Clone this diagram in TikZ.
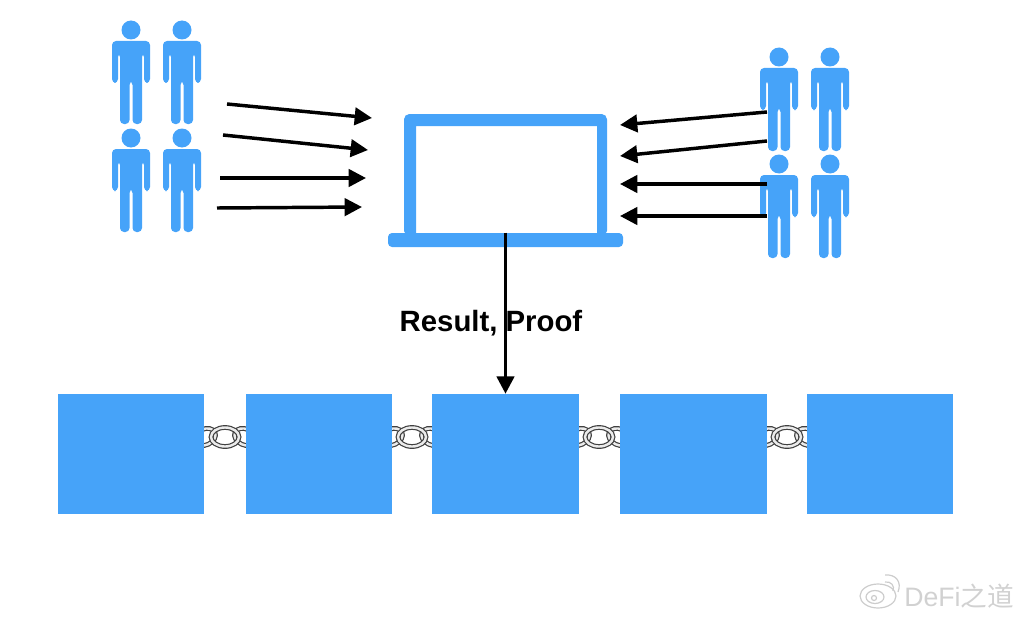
\documentclass[tikz,border=0pt]{standalone}
\usepackage{fontspec}
\setmainfont{Liberation Sans}
\newfontfamily\cjkfont{Noto Sans CJK SC}
\usepackage{tikz}
\usetikzlibrary{arrows.meta}

\definecolor{chainblue}{HTML}{46A3F9}

\tikzset{
    blockbox/.style={fill=chainblue, inner sep=0pt, minimum height=90pt},
    flowarrow/.style={line width=2.6pt, -{Triangle[length=13pt, width=13pt]}},
    ringdark/.style={draw=black!75, line width=3.6pt},
    ringlight/.style={draw=black!8, line width=1.8pt},
    person/.pic={
        \fill[chainblue] (0, 0) circle (9.5);
        \fill[chainblue, rounded corners=3] (-19, 11) -- (19, 11) -- (19, 53) -- (13, 53) -- (13, 23)
            -- (11, 23) -- (11, 94) -- (1.5, 94) -- (1.5, 51) -- (-1.5, 51) -- (-1.5, 94) -- (-11, 94)
            -- (-11, 23) -- (-13, 23) -- (-13, 53) -- (-19, 53) -- cycle;
    },
    chainlink/.pic={
        \draw[ringdark, rotate around={-25:(20, 0)}] (20, 0) ellipse (11 and 8);
        \draw[ringlight, rotate around={-25:(20, 0)}] (20, 0) ellipse (11 and 8);
        \draw[ringdark, rotate around={25:(-20, 0)}] (-20, 0) ellipse (11 and 8);
        \draw[ringlight, rotate around={25:(-20, 0)}] (-20, 0) ellipse (11 and 8);
        \draw[ringdark] (0, 0) ellipse (14 and 9.5);
        \draw[ringlight] (0, 0) ellipse (14 and 9.5);
    }
}

\begin{document}
\begin{tikzpicture}[x=0.75pt, y=-0.75pt]
    \useasboundingbox (0, 0) rectangle (1024, 617);

    % Chain links sit behind the blocks
    \foreach \cx in {225, 412, 599, 787}
        \pic at (\cx, 437) {chainlink};

    % Blocks
    \node[blockbox, minimum width=109.5pt] (blockA) at (131, 454) {};
    \node[blockbox, minimum width=109.5pt] (blockB) at (319, 454) {};
    \node[blockbox, minimum width=110.25pt] (blockC) at (505.5, 454) {};
    \node[blockbox, minimum width=110.25pt] (blockD) at (693.5, 454) {};
    \node[blockbox, minimum width=109.5pt] (blockE) at (880, 454) {};

    % People on the left
    \foreach \px/\py in {131/30, 182/30, 131/138, 182/138}
        \pic at (\px, \py) {person};
    % People on the right
    \foreach \px/\py in {779/57, 830/57, 779/164, 830/164}
        \pic at (\px, \py) {person};

    % Laptop
    \fill[chainblue, even odd rule] [rounded corners=4pt] (404, 236) -- (404, 114) -- (607, 114) -- (607, 236) -- cycle
        [sharp corners] (416, 126) rectangle (597, 233);
    \node[fill=chainblue, inner sep=0pt, minimum width=176.25pt, minimum height=10.5pt, rounded corners=3pt] (laptopbase) at (505.5, 240) {};

    % Label goes under the arrow
    \node[font=\fontsize{22}{24}\selectfont\bfseries] (resultlabel) at (491, 323) {Result, Proof};

    % Arrow end points
    \coordinate (inA) at (227, 104);
    \coordinate (laptopA) at (372, 118);
    \coordinate (inB) at (223, 135);
    \coordinate (laptopB) at (368, 150);
    \coordinate (inC) at (220, 178);
    \coordinate (laptopC) at (366, 178);
    \coordinate (inD) at (217, 208);
    \coordinate (laptopD) at (362, 207);
    \coordinate (inE) at (767, 112);
    \coordinate (laptopE) at (620, 125);
    \coordinate (inF) at (767, 141);
    \coordinate (laptopF) at (620, 156);
    \coordinate (inG) at (767, 184);
    \coordinate (laptopG) at (620, 184);
    \coordinate (inH) at (767, 216);
    \coordinate (laptopH) at (620, 216);

    \foreach \a in {A, B, C, D, E, F, G, H}
        \draw[flowarrow] (in\a) -- (laptop\a);

    \draw[flowarrow] (laptopbase.north) -- (blockC.north);

    % Watermark
    \begin{scope}[draw=black!20, line width=0.9pt]
        \draw (878, 596) ellipse (18 and 12);
        \draw (875, 597) ellipse (9 and 6.5);
        \draw (874, 598) circle (2.5);
        \draw (885, 582) .. controls (891, 581) and (895, 586) .. (893, 591);
        \draw (885, 575) .. controls (896, 574) and (902, 582) .. (898, 592);
    \end{scope}
    \node[text=black!18, font=\fontsize{20}{22}\selectfont, inner sep=0pt, anchor=west] (watermark) at (904, 596) {DeFi{\cjkfont 之道}};
\end{tikzpicture}
\end{document}
